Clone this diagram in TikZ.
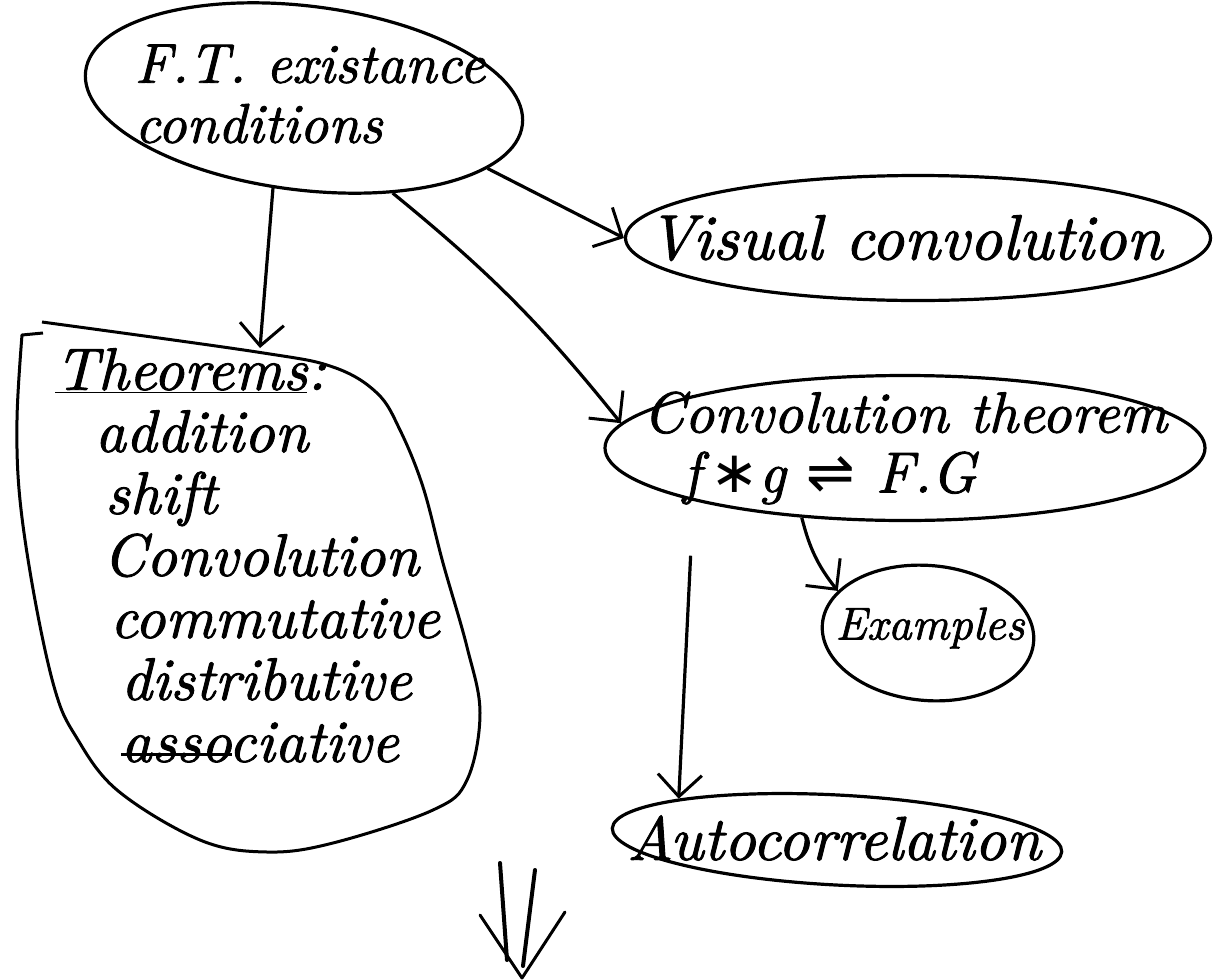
\documentclass[tikz,border=0pt]{standalone}
\usepackage{fontspec}
\setmainfont{Latin Modern Roman}
\newfontfamily\handf{lmroman10-italic.otf}[FakeBold=1.5]
\newfontfamily\symf{DejaVu Sans}
\usetikzlibrary{arrows.meta,shapes.geometric}
\newsavebox\strkbox
\newcommand\mystrike[1]{\sbox\strkbox{#1}\rlap{\rule[0.22ex]{\wd\strkbox}{3pt}}#1}
\begin{document}
\begin{tikzpicture}[x=1pt,y=-1pt,
  bubble/.style={draw, ellipse, line width=3.2pt, inner sep=0pt},
  hand/.style={font=\fontsize{60}{62}\selectfont\handf, inner sep=0pt, align=left},
  link/.style={line width=3.2pt, -{Straight Barb[length=22pt,width=44pt,line width=3pt]}},
]
\useasboundingbox (0,0) rectangle (1213,980);

% bubbles
\node[bubble, minimum width=440pt, minimum height=184pt, rotate=-7] (ft) at (304,98) {};
\node[bubble, minimum width=585pt, minimum height=125pt] (vis) at (918,238) {};
\node[bubble, minimum width=600pt, minimum height=145pt] (conv) at (905,448) {};
\node[bubble, minimum width=212pt, minimum height=135pt, rotate=-5] (ex) at (928,633) {};
\node[bubble, minimum width=450pt, minimum height=90pt, rotate=-3] (auto) at (837,840) {};

% texts
\node[hand, font=\fontsize{56}{60}\selectfont\handf] (ftT) at (310,94) {F.T. existance\\conditions};
\node[hand, font=\fontsize{64}{64}\selectfont\handf] (visT) at (905,238) {Visual convolution};
\node[hand, font=\fontsize{58}{60}\selectfont\handf] (convT) at (905,448) {Convolution theorem\\\hspace*{40pt}f\,{\symf ∗}g {\symf ⇌} F.G};
\node[hand, font=\fontsize{46}{46}\selectfont\handf] (exT) at (930,628) {Examples};
\node[hand, font=\fontsize{62}{62}\selectfont\handf] (autoT) at (834,838) {Autocorrelation};

% theorems blob
\node[hand, anchor=north west] (thmT) at (55,348) {\underline{Theorems}:\\
\hspace*{40pt}addition\\
\hspace*{50pt}shift\\
\hspace*{48pt}Convolution\\
\hspace*{55pt}commutative\\
\hspace*{66pt}distributive\\
\hspace*{66pt}\mystrike{asso}ciative};
\draw[line width=3pt, line join=round] (43,333) -- plot[smooth, tension=0.6] coordinates {(22,335) (17,420) (20,500) (35,600) (55,690) (75,735) (117,790) (200,840) (267,852) (333,843) (433,810) (467,780) (480,713) (467,647) (443,563) (423,487) (400,430) (377,393) (333,367) (257,352) (42,322)};
\coordinate (thmtop) at (260,348);

% connectors
\draw[link] (ft.258) -- (thmtop);
\draw[link] (ft.-40) to[bend left=6] (conv.175);
\draw[link] (ft.-14) -- (vis.west);
\draw[link, shorten <=55pt] (conv.194) -- (auto.north west);
\draw[link] (conv.214) to[bend right=12] (ex.160);

% double arrow at the bottom
\coordinate (dA) at (500,863);
\coordinate (dB) at (507,960);
\coordinate (dC) at (535,870);
\coordinate (dD) at (523,966);
\coordinate (dL) at (480,915);
\coordinate (dT) at (522,978);
\coordinate (dR) at (565,912);
\draw[line width=4pt, line cap=round] (dA) -- (dB);
\draw[line width=4pt, line cap=round] (dC) -- (dD);
\draw[line width=3pt, line cap=round, line join=round] (dL) -- (dT) -- (dR);
\end{tikzpicture}
\end{document}
